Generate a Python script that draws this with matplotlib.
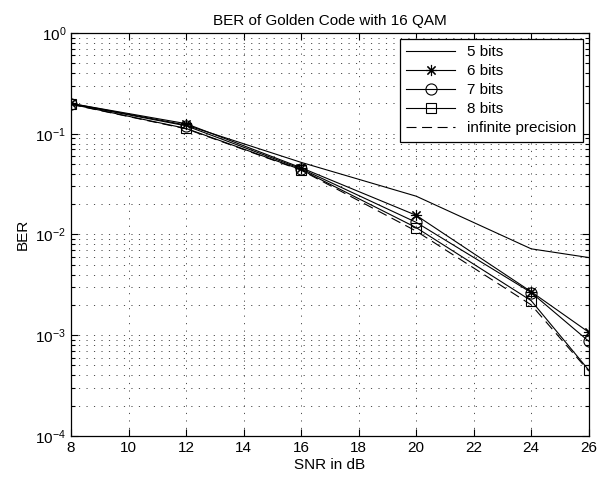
import matplotlib
matplotlib.use("Agg")
import matplotlib.pyplot as plt
from matplotlib.ticker import LogLocator, NullFormatter, MultipleLocator

plt.rcParams['font.family'] = ['Liberation Sans', 'DejaVu Sans']
plt.rcParams['mathtext.fontset'] = 'custom'
plt.rcParams['mathtext.rm'] = 'Liberation Sans'
plt.rcParams['mathtext.it'] = 'Liberation Sans'

snr = [8, 12, 16, 20, 24, 26]
ber_5bits = [0.200, 0.122, 0.052, 0.0240, 0.0072, 0.0059]
ber_6bits = [0.200, 0.126, 0.046, 0.0155, 0.0027, 0.00107]
ber_7bits = [0.198, 0.120, 0.045, 0.0132, 0.00265, 0.00087]
ber_8bits = [0.197, 0.113, 0.044, 0.0117, 0.0022, 0.00045]
ber_inf = [0.196, 0.112, 0.0435, 0.0108, 0.0020, 0.00044]

fig = plt.figure(figsize=(6.12, 4.79), dpi=100)
ax = fig.add_axes([0.116, 0.090, 0.846, 0.841])

lw = 0.8
ax.plot(snr, ber_5bits, color='black', lw=lw, label='5 bits')
ax.plot(snr, ber_6bits, color='black', lw=lw, marker=(8, 2, 0), ms=8,
        mew=0.8, label='6 bits')
ax.plot(snr, ber_7bits, color='black', lw=lw, marker='o', ms=8,
        mfc='none', mew=0.8, label='7 bits')
ax.plot(snr, ber_8bits, color='black', lw=lw, marker='s', ms=7,
        mfc='none', mew=0.8, label='8 bits')
ax.plot(snr, ber_inf, color='black', lw=lw, ls=(0, (9, 5)),
        label='infinite precision')

ax.set_yscale('log')
ax.set_xlim(8, 26)
ax.set_ylim(1e-4, 1)
ax.xaxis.set_major_locator(MultipleLocator(2))
ax.yaxis.set_major_locator(LogLocator(base=10, numticks=10))
ax.yaxis.set_minor_locator(LogLocator(base=10, subs=range(2, 10), numticks=50))
ax.yaxis.set_minor_formatter(NullFormatter())

ax.tick_params(which='both', direction='in', top=True, right=True,
               labelsize=11, width=0.8)
ax.tick_params(which='major', length=5)
ax.tick_params(which='minor', length=3)
for s in ax.spines.values():
    s.set_linewidth(0.9)

grid_ls = (0, (1.2, 6.5))
ax.grid(True, which='major', axis='both', ls=grid_ls, color='0.3', lw=0.7)
ax.grid(True, which='minor', axis='y', ls=grid_ls, color='0.3', lw=0.7)

ax.set_title('BER of Golden Code with 16 QAM', fontsize=11)
ax.set_xlabel('SNR in dB', fontsize=11, labelpad=2)
ax.set_ylabel('BER', fontsize=11)

leg = ax.legend(loc='upper right', fontsize=11, fancybox=False,
                framealpha=1, edgecolor='black', borderaxespad=0.4,
                handlelength=3.2, labelspacing=0.33)
leg.get_frame().set_linewidth(0.9)

fig.savefig('out.png', dpi=100)
